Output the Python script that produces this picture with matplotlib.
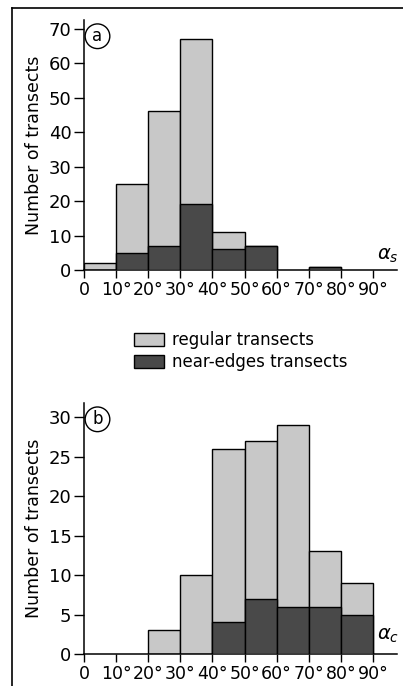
import numpy as np
import matplotlib
matplotlib.use("Agg")
import matplotlib.pyplot as plt
from matplotlib.lines import Line2D

# bin left edges (degrees)
bins = [0, 10, 20, 30, 40, 50, 60, 70, 80]
tick_vals = [0, 10, 20, 30, 40, 50, 60, 70, 80, 90]
tick_labels = ["0", "10°", "20°", "30°", "40°", "50°", "60°", "70°", "80°", "90°"]

# panel (a): alpha_s
reg_a = [2, 25, 46, 67, 11, 7, 0, 1, 0]
edge_a = [0, 5, 7, 19, 6, 7, 0, 1, 0]

# panel (b): alpha_c
reg_b = [0, 0, 3, 10, 26, 27, 29, 13, 9]
edge_b = [0, 0, 0, 0, 4, 7, 6, 6, 5]

light = "#c8c8c8"
dark = "#494949"

plt.rcParams["font.family"] = "DejaVu Sans"

W, H = 403, 686
fig = plt.figure(figsize=(W / 100, H / 100), dpi=100)


def px_ax(x0, y_top, x1, y_bot):
    return fig.add_axes([x0 / W, 1 - y_bot / H, (x1 - x0) / W, (y_bot - y_top) / H])


def panel(ax, reg, edge, ymax, yticks, letter, alpha_lbl, alpha_y):
    mask_r = [h if h > 0 else np.nan for h in reg]
    mask_e = [h if h > 0 else np.nan for h in edge]
    b1 = ax.bar(bins, mask_r, width=10, align="edge", color=light,
                edgecolor="black", linewidth=1.0, zorder=2)
    b2 = ax.bar(bins, mask_e, width=10, align="edge", color=dark,
                edgecolor="black", linewidth=1.0, zorder=3)
    ax.set_xlim(0, 97.5)
    ax.set_ylim(0, ymax)
    ax.spines["top"].set_visible(False)
    ax.spines["right"].set_visible(False)
    ax.spines["left"].set_linewidth(1.1)
    ax.spines["bottom"].set_linewidth(1.1)
    ax.set_xticks(tick_vals)
    ax.set_xticklabels(tick_labels, fontsize=12.5)
    ax.set_yticks(yticks)
    ax.tick_params(axis="y", labelsize=13, length=7, width=1.0, pad=2)
    ax.tick_params(axis="x", length=6, width=1.0, pad=2)
    ax.set_ylabel("Number of transects", fontsize=12.5, labelpad=4)
    ax.text(4.2, 0.935, letter, transform=ax.get_xaxis_transform(),
            fontsize=12, ha="center", va="center",
            bbox=dict(boxstyle="circle,pad=0.2", fc="white", ec="black", lw=1.0))
    ax.text(91.3, alpha_y, alpha_lbl, fontsize=14, ha="left", va="center",
            clip_on=False)
    return b1, b2


ax1 = px_ax(84, 20, 397, 270)
b1, b2 = panel(ax1, reg_a, edge_a, 72.5, [0, 10, 20, 30, 40, 50, 60, 70],
               "a", r"$\alpha_s$", 4.2)

ax2 = px_ax(84, 403, 397, 654)
panel(ax2, reg_b, edge_b, 31.8, [0, 5, 10, 15, 20, 25, 30],
      "b", r"$\alpha_c$", 2.4)

fig.legend([b1, b2], ["regular transects", "near-edges transects"],
           loc="upper left", bbox_to_anchor=(134 / W, 1 - 331 / H),
           frameon=False, fontsize=12, handlelength=1.8, handleheight=0.8,
           handletextpad=0.5, labelspacing=0.25, borderpad=0, borderaxespad=0)

# outer frame (left and top edges visible)
fig.add_artist(Line2D([12 / W, 12 / W], [0, 1 - 8 / H], color="black",
                      lw=1.2, transform=fig.transFigure))
fig.add_artist(Line2D([12 / W, 1], [1 - 8 / H, 1 - 8 / H], color="black",
                      lw=1.2, transform=fig.transFigure))

fig.savefig("out.png", dpi=100)
